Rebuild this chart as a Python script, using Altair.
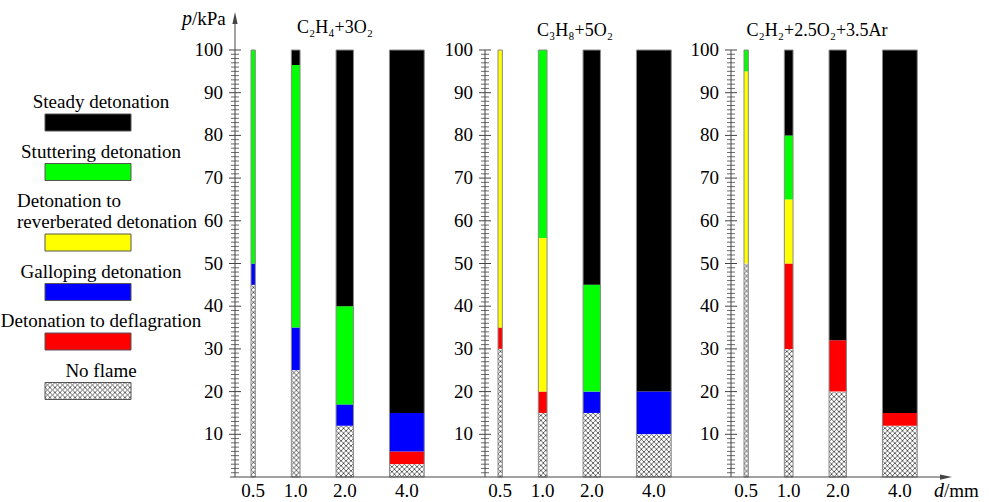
import base64
import altair as alt
import pandas as pd

FONT = "Liberation Serif, Times New Roman, DejaVu Serif, serif"
AX = "#444444"

# ---------------- data ----------------
regimes = [
    "Steady detonation",
    "Stuttering detonation",
    "Detonation to reverberated detonation",
    "Galloping detonation",
    "Detonation to deflagration",
    "No flame",
]
legend_lines = [
    ["Steady detonation"],
    ["Stuttering detonation"],
    ["Detonation to", "reverberated detonation"],
    ["Galloping detonation"],
    ["Detonation to deflagration"],
    ["No flame"],
]
regime_colors = ["#000000", "#00ff00", "#ffff00", "#0000ff", "#ff0000", "#ffffff"]

diameters = [0.5, 1.0, 2.0, 4.0]
diameter_labels = ["0.5", "1.0", "2.0", "4.0"]
mixtures = ["C₂H₄+3O₂", "C₃H₈+5O₂", "C₂H₂+2.5O₂+3.5Ar"]

c2h4_regimes = [
    ["No flame", "Galloping detonation", "Stuttering detonation"],
    ["No flame", "Galloping detonation", "Stuttering detonation", "Steady detonation"],
    ["No flame", "Galloping detonation", "Stuttering detonation", "Steady detonation"],
    ["No flame", "Detonation to deflagration", "Galloping detonation", "Steady detonation"],
]
c2h4_bounds = [[0, 45, 50, 100], [0, 25, 35, 96.5, 100], [0, 12, 17, 40, 100], [0, 3, 6, 15, 100]]

c3h8_regimes = [
    ["No flame", "Detonation to deflagration", "Detonation to reverberated detonation"],
    ["No flame", "Detonation to deflagration", "Detonation to reverberated detonation", "Stuttering detonation"],
    ["No flame", "Galloping detonation", "Stuttering detonation", "Steady detonation"],
    ["No flame", "Galloping detonation", "Steady detonation"],
]
c3h8_bounds = [[0, 30, 35, 100], [0, 15, 20, 56, 100], [0, 15, 20, 45, 100], [0, 10, 20, 100]]

c2h2_regimes = [
    ["No flame", "Detonation to reverberated detonation", "Stuttering detonation"],
    ["No flame", "Detonation to deflagration", "Detonation to reverberated detonation",
     "Stuttering detonation", "Steady detonation"],
    ["No flame", "Detonation to deflagration", "Steady detonation"],
    ["No flame", "Detonation to deflagration", "Steady detonation"],
]
c2h2_bounds = [[0, 50, 95, 100], [0, 30, 50, 65, 80, 100], [0, 20, 32, 100], [0, 12, 15, 100]]

major_ticks = list(range(10, 101, 10))
minor_ticks = [v for v in range(1, 100) if v % 10]
axis_range = [0, 100]

# ---------------- layout / style ----------------
H = 427
PX_PER_MM = 8.7
GAP_PX = 36

HATCH_SVG = (
    '<svg xmlns="http://www.w3.org/2000/svg" width="100%" height="100%">'
    '<defs><pattern id="h" patternUnits="userSpaceOnUse" width="5" height="5">'
    '<rect width="5" height="5" fill="#ffffff"/>'
    '<path d="M0,0L5,5M5,0L0,5" stroke="#3a3a3a" stroke-width="0.75"/>'
    '</pattern></defs><rect width="100%" height="100%" fill="url(#h)"/></svg>'
)
HATCH = "data:image/svg+xml;base64," + base64.b64encode(HATCH_SVG.encode()).decode()

color_scale = alt.Scale(domain=regimes, range=regime_colors)
axis_df = pd.DataFrame({"y0": [axis_range[0]], "y1": [axis_range[1]]})


def panel(name, regs, bnds, width, offset_px, title_x, title_y, first=False, last=False):
    umax = width / PX_PER_MM
    gap = GAP_PX / PX_PER_MM
    left = offset_px / PX_PER_MM
    segs, bars = [], []
    for lab, d, rs, bs in zip(diameter_labels, diameters, regs, bnds):
        x0, x1 = left, left + d
        bars.append(dict(d=lab, x0=x0, x1=x1, xc=(x0 + x1) / 2, lo=bs[0], hi=bs[-1]))
        for r, lo, hi in zip(rs, bs[:-1], bs[1:]):
            segs.append(dict(regime=r, x0=x0, x1=x1, lo=lo, hi=hi))
        left = x1 + gap
    seg_df = pd.DataFrame(segs)
    bar_df = pd.DataFrame(bars)

    xs = alt.Scale(domain=[0, umax], nice=False, zero=False)
    ys = alt.Scale(domain=[0, 100], nice=False, zero=False)

    layers = [
        alt.Chart(seg_df).mark_rect(strokeWidth=0).encode(
            x=alt.X("x0:Q", scale=xs, axis=None), x2="x1:Q",
            y=alt.Y("lo:Q", scale=ys, axis=None), y2="hi:Q",
            color=alt.Color("regime:N", scale=color_scale, legend=None),
        ),
        alt.Chart(seg_df).transform_filter(alt.datum.regime == "No flame")
        .mark_image(aspect=False, url=HATCH)
        .encode(
            x=alt.X("x0:Q", scale=xs, axis=None), x2="x1:Q",
            y=alt.Y("lo:Q", scale=ys, axis=None), y2="hi:Q",
        ),
        alt.Chart(bar_df).mark_rect(fillOpacity=0, stroke="#8a8a8a", strokeWidth=1).encode(
            x=alt.X("x0:Q", scale=xs, axis=None), x2="x1:Q",
            y=alt.Y("lo:Q", scale=ys, axis=None), y2="hi:Q",
        ),
    ]
    if first:
        layers.append(alt.Chart(axis_df).mark_rule(color=AX, strokeWidth=1).encode(
            x=alt.value(0), y=alt.Y("y0:Q", scale=ys, axis=None), y2=alt.value(-28)))
        layers.append(alt.Chart(axis_df).mark_point(
            shape="M0,-1L0.35,0.6L-0.35,0.6Z", filled=True, size=225, color=AX, opacity=1
        ).encode(x=alt.value(0), y=alt.value(-30.5)))
    else:
        layers.append(alt.Chart(axis_df).mark_rule(color=AX, strokeWidth=1).encode(
            x=alt.value(0), y=alt.Y("y0:Q", scale=ys, axis=None), y2="y1:Q"))
    if last:
        layers.append(alt.Chart(axis_df).mark_rule(color=AX, strokeWidth=1).encode(
            x=alt.value(0), x2=alt.value(width - 8), y=alt.Y("y0:Q", scale=ys, axis=None)))
        layers.append(alt.Chart(axis_df).mark_point(
            shape="M1,0L-0.6,-0.35L-0.6,0.35Z", filled=True, size=225, color=AX, opacity=1
        ).encode(x=alt.value(width - 7.5), y=alt.Y("y0:Q", scale=ys, axis=None)))
    else:
        layers.append(alt.Chart(axis_df).mark_rule(color=AX, strokeWidth=1).encode(
            x=alt.value(-5 if first else 0), x2=alt.value(width), y=alt.Y("y0:Q", scale=ys, axis=None)))
    layers.append(alt.Chart(pd.DataFrame({"v": minor_ticks})).mark_rule(color=AX, strokeWidth=0.8).encode(
        y=alt.Y("v:Q", scale=ys, axis=None), x=alt.value(-4), x2=alt.value(4)))
    layers.append(alt.Chart(pd.DataFrame({"v": major_ticks})).mark_rule(color=AX, strokeWidth=1).encode(
        y=alt.Y("v:Q", scale=ys, axis=None), x=alt.value(-6), x2=alt.value(6)))
    layers.append(alt.Chart(pd.DataFrame({"v": major_ticks})).mark_text(
        align="right", baseline="middle", font=FONT, fontSize=19, color="#000").encode(
        y=alt.Y("v:Q", scale=ys, axis=None), x=alt.value(-12), text="v:Q"))
    layers.append(alt.Chart(bar_df).mark_text(
        align="center", baseline="middle", font=FONT, fontSize=19, color="#000").encode(
        x=alt.X("xc:Q", scale=xs, axis=None), y=alt.value(H + 14), text="d:N"))
    layers.append(alt.Chart(axis_df).mark_text(
        align="center", baseline="alphabetic", font=FONT, fontSize=18, color="#000",
        text=name).encode(x=alt.value(title_x), y=alt.value(title_y)))
    if first:
        layers.append(alt.Chart(axis_df).mark_text(
            align="left", baseline="alphabetic", font=FONT, fontSize=20, fontStyle="italic",
            color="#000", text="p").encode(x=alt.value(-53), y=alt.value(-25)))
        layers.append(alt.Chart(axis_df).mark_text(
            align="left", baseline="alphabetic", font=FONT, fontSize=19, color="#000",
            text="/kPa").encode(x=alt.value(-43), y=alt.value(-25)))
        layers.append(alt.Chart(axis_df).mark_rule(color="#ffffff", opacity=0).encode(
            x=alt.value(0), x2=alt.value(1), y=alt.value(-49.7)))
    if last:
        layers.append(alt.Chart(axis_df).mark_text(
            align="left", baseline="alphabetic", font=FONT, fontSize=20, fontStyle="italic",
            color="#000", text="d").encode(x=alt.value(203), y=alt.value(H + 20)))
        layers.append(alt.Chart(axis_df).mark_text(
            align="left", baseline="alphabetic", font=FONT, fontSize=19, color="#000",
            text="/mm").encode(x=alt.value(213), y=alt.value(H + 20)))
    return alt.layer(*layers).properties(width=width, height=H)


# ---------------- legend ----------------
text_rows, rect_rows = [], []
y = 52
for reg, lines in zip(regimes, legend_lines):
    for i, line in enumerate(lines):
        text_rows.append(dict(t=line, ly=y, multi=len(lines) > 1))
        if i < len(lines) - 1:
            y += 21
    top = y + 12
    rect_rows.append(dict(regime=reg, top=top, bot=top + 17))
    y = top + 17 + 20.5
text_df = pd.DataFrame(text_rows)
rect_df = pd.DataFrame(rect_rows)

lys = alt.Scale(domain=[0, H], range=[0, H], nice=False, zero=False)

legend = alt.layer(
    alt.Chart(text_df).transform_filter("!datum.multi").mark_text(
        align="center", baseline="middle", font=FONT, fontSize=19, color="#000").encode(
        x=alt.value(99), y=alt.Y("ly:Q", scale=lys, axis=None), text="t:N"),
    alt.Chart(text_df).transform_filter("datum.multi").mark_text(
        align="left", baseline="middle", font=FONT, fontSize=19, color="#000").encode(
        x=alt.value(15), y=alt.Y("ly:Q", scale=lys, axis=None), text="t:N"),
    alt.Chart(rect_df).mark_rect(strokeWidth=0).encode(
        x=alt.value(43), x2=alt.value(129),
        y=alt.Y("top:Q", scale=lys, axis=None), y2="bot:Q",
        color=alt.Color("regime:N", scale=color_scale, legend=None)),
    alt.Chart(rect_df).transform_filter(alt.datum.regime == "No flame").mark_image(
        aspect=False, url=HATCH).encode(
        x=alt.value(43), x2=alt.value(129),
        y=alt.Y("top:Q", scale=lys, axis=None), y2="bot:Q"),
    alt.Chart(rect_df).mark_rect(fillOpacity=0, stroke="#555555", strokeWidth=1).encode(
        x=alt.value(43), x2=alt.value(129),
        y=alt.Y("top:Q", scale=lys, axis=None), y2="bot:Q"),
).properties(width=233, height=H)

p1 = panel(mixtures[0], c2h4_regimes, c2h4_bounds, 250, 16, 100, -17, first=True)
p2 = panel(mixtures[1], c3h8_regimes, c3h8_bounds, 246, 13, 90, -14.5)
p3 = panel(mixtures[2], c2h2_regimes, c2h2_bounds, 221, 13, 86, -14.5, last=True)

chart = alt.hconcat(legend, p1, p2, p3, spacing=0, bounds="flush").properties(
    padding={"left": 0, "top": 0, "right": 5, "bottom": 0}
).configure_view(stroke=None)

chart.save("out.html", embed_options={"renderer": "svg", "actions": False})
